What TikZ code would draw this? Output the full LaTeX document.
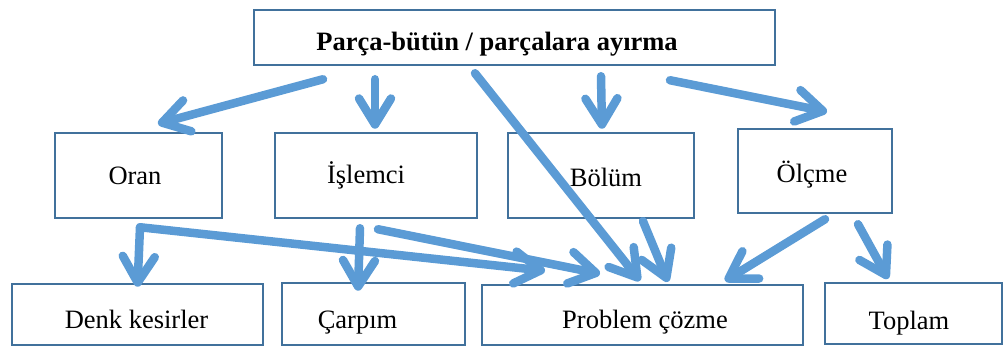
\documentclass[tikz,border=0pt]{standalone}
\usepackage{fontspec}
\setmainfont{Liberation Serif}
\usetikzlibrary{arrows.meta}
\definecolor{boxblue}{RGB}{65,113,156}
\definecolor{arrowblue}{RGB}{91,155,213}
\tikzset{
  box/.style={draw=boxblue, line width=2.5pt, fill=white, inner sep=0pt},
  txt/.style={font=\fontsize{26.5}{30}\selectfont, inner sep=0pt, anchor=base},
  arr/.style={draw=arrowblue, line width=8.5pt, line cap=round, line join=round,
    -{Straight Barb[length=26pt,width=32pt,line cap=round,line join=round]}}
}
\begin{document}
\begin{tikzpicture}[x=1pt,y=-1pt]
		\useasboundingbox (0,0) rectangle (1004,347);

		% boxes
		\node[box, minimum width=521pt, minimum height=55pt] (top) at (514.5,37.5) {};
		\node[box, minimum width=167pt, minimum height=85pt] (oran) at (138.5,175.5) {};
		\node[box, minimum width=202pt, minimum height=85pt] (islemci) at (376,175.5) {};
		\node[box, minimum width=186pt, minimum height=85pt] (bolum) at (601,175.5) {};
		\node[box, minimum width=154pt, minimum height=84pt] (olcme) at (815,171) {};
		\node[box, minimum width=251pt, minimum height=61pt] (denk) at (137.5,314.5) {};
		\node[box, minimum width=183pt, minimum height=62pt] (carpim) at (373.5,314) {};
		\node[box, minimum width=321pt, minimum height=60pt] (problem) at (642.5,315) {};
		\node[box, minimum width=177pt, minimum height=61pt] (toplam) at (913.5,313.5) {};

		% texts
		\node[txt, font=\fontsize{26.5}{30}\selectfont\bfseries] (top-t) at (497,51) {Parça-bütün / parçalara ayırma};
		\node[txt] (oran-t) at (135,185) {Oran};
		\node[txt] (islemci-t) at (366,184) {İşlemci};
		\node[txt] (bolum-t) at (606,187) {Bölüm};
		\node[txt] (olcme-t) at (812,183) {Ölçme};
		\node[txt] (denk-t) at (136.5,329) {Denk kesirler};
		\node[txt] (carpim-t) at (357.5,329) {Çarpım};
		\node[txt] (problem-t) at (645,328) {Problem çözme};
		\node[txt] (toplam-t) at (909,330) {Toplam};

		% arrows
		\draw[arr] ([shift={(-191.5,13)}]top.south) -- ([shift={(19.5,-8)}]oran.north);
		\draw[arr] ([shift={(-139.5,13)}]top.south) -- ([shift={(-1,-3)}]islemci.north);
		\draw[arr] ([shift={(-39.5,7)}]top.south) -- ([shift={(-2.5,-3)}]problem.north);
		\draw[arr] ([shift={(86.5,10)}]top.south) -- ([shift={(1,-3)}]bolum.north);
		\draw[arr] ([shift={(155.5,14)}]top.south) -- ([shift={(12,-16)}]olcme.north);

		\draw[arr] ([shift={(1.5,8)}]oran.south) -- ([shift={(0,4)}]denk.north);
		\draw[arr] ([shift={(1.5,8)}]oran.south) -- ([shift={(-97.5,-13)}]problem.north);
		\draw[arr] ([shift={(-16,9)}]islemci.south) -- ([shift={(-15.5,9)}]carpim.north);
		\draw[arr] ([shift={(2,10)}]islemci.south) -- ([shift={(-42.5,-10)}]problem.north);
		\draw[arr] ([shift={(42,2)}]bolum.south) -- ([shift={(25.5,-2)}]problem.north);
		\draw[arr] ([shift={(10,5)}]olcme.south) -- ([shift={(82.5,-3)}]problem.north);
		\draw[arr] ([shift={(43,10)}]olcme.south) -- ([shift={(-25.5,-3)}]toplam.north);
	\end{tikzpicture}
\end{document}
